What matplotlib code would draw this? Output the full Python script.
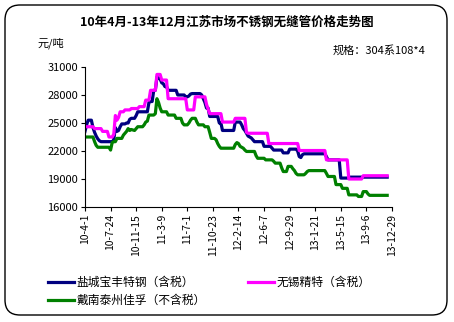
import matplotlib
matplotlib.use("Agg")
import matplotlib.pyplot as plt
from matplotlib.patches import FancyBboxPatch
import numpy as np

plt.rcParams['font.family'] = ['Noto Sans CJK SC', 'DejaVu Sans']

# weekly prices, yuan/ton
yancheng = [
    24100, 24800, 25300, 25300, 25300, 24500, 24000, 23600, 23300, 23100,
    23000, 23000, 23000, 23000, 23000, 23000, 23000, 23000, 23200, 24500,
    24100, 24200, 24600, 24900, 24900, 24900, 25000, 25000, 25400, 25500,
    25500, 25500, 25800, 26200, 26200, 26200, 26200, 26200, 26200, 26200,
    27200, 27300, 27300, 28500, 28500, 29900, 29800, 29700, 29300, 29200,
    28900, 28900, 28500, 28500, 28500, 28500, 28500, 28500, 28000, 28000,
    28000, 28000, 28000, 27800, 27800, 27900, 28100, 28150, 28150, 28150,
    28150, 28150, 28150, 28000, 27600, 27200, 26600, 26600, 25700, 25700,
    25700, 25700, 25700, 25700, 25000, 25000, 24200, 24200, 24200, 24200,
    24200, 24200, 24200, 24200, 25100, 25100, 25100, 25100, 24800, 24400,
    24200, 23900, 23600, 23500, 23400, 23200, 23000, 23000, 23000, 23000,
    23000, 23000, 22500, 22500, 22500, 22500, 22500, 22300, 22100, 22100,
    22100, 22100, 22100, 22100, 21800, 21800, 21800, 21800, 22200, 22200,
    22200, 22200, 22200, 22000, 21400, 21300, 21600, 21700, 21700, 21700,
    21700, 21700, 21700, 21700, 21700, 21700, 21700, 21700, 21700, 21700,
    21700, 21400, 21050, 21050, 21050, 21050, 21050, 21050, 21050, 21050,
    19100, 19100, 19100, 19100, 19100, 19100, 19200, 19200, 19200, 19200,
    19200, 19200, 19200, 19200, 19200, 19200, 19200, 19200, 19200, 19200,
    19200, 19200, 19200, 19200, 19200, 19200, 19200, 19200, 19200, 19200,
]
wuxi = [
    24600, 24600, 24600, 24600, 24600, 24600, 24400, 24400, 24400, 24400,
    24400, 24100, 24100, 24100, 24100, 23500, 23500, 23500, 23800, 25800,
    25300, 25600, 26200, 26200, 26200, 26400, 26400, 26400, 26400, 26550,
    26550, 26550, 26550, 26550, 26750, 26750, 26750, 26750, 27450, 27450,
    27450, 28500, 28500, 28500, 28500, 30200, 30200, 30200, 29600, 29600,
    29600, 29600, 27600, 27600, 27600, 27600, 27600, 27600, 27600, 27600,
    27600, 27600, 27600, 27600, 26400, 26400, 26400, 26400, 26400, 27800,
    27800, 27800, 27800, 27800, 27800, 27800, 27000, 26500, 26000, 26000,
    26000, 26000, 26000, 26000, 26000, 26000, 25100, 25100, 25100, 25100,
    25100, 25100, 25100, 25100, 25500, 25500, 25500, 25500, 25500, 25500,
    25500, 24000, 23900, 23900, 23900, 23900, 23900, 23900, 23900, 23900,
    23900, 23900, 23900, 23900, 23900, 22800, 22800, 22800, 22800, 22800,
    22800, 22800, 22800, 22800, 22800, 22800, 22800, 22800, 22800, 22800,
    22800, 22800, 22800, 22800, 22050, 22050, 22050, 22050, 22050, 22050,
    22050, 22050, 22050, 22050, 22050, 22050, 22050, 22050, 22050, 22050,
    22050, 21050, 21050, 21050, 21050, 21050, 21050, 21050, 21050, 21050,
    21050, 21050, 21050, 21050, 21050, 19000, 19000, 19000, 19000, 19000,
    19000, 19000, 19000, 19000, 19350, 19350, 19350, 19350, 19350, 19350,
    19350, 19350, 19350, 19350, 19350, 19350, 19350, 19350, 19350, 19350,
]
dainan = [
    23500, 23500, 23500, 23500, 23500, 23500, 23000, 22600, 22400, 22400,
    22400, 22400, 22400, 22400, 22400, 22400, 22100, 22900, 23000, 23000,
    23350, 23350, 23350, 23350, 23700, 23900, 24100, 24400, 24200, 24300,
    24250, 24200, 24400, 24600, 24600, 24600, 24600, 24800, 25100, 25200,
    25850, 25850, 25850, 25850, 26000, 27600, 27200, 26600, 26200, 26200,
    26200, 26200, 25850, 25850, 25850, 25850, 25850, 25500, 25500, 25500,
    25500, 25000, 24800, 24800, 24800, 25000, 25300, 25500, 25500, 25500,
    25100, 24800, 24800, 24800, 24800, 24600, 24600, 24600, 24000, 23350,
    23350, 23350, 23200, 22800, 22500, 22300, 22300, 22300, 22300, 22300,
    22300, 22300, 22300, 22300, 22700, 22900, 22800, 22500, 22400, 22300,
    22100, 21950, 21950, 21950, 21950, 21950, 21950, 21500, 21220, 21220,
    21220, 21220, 21220, 21050, 21050, 21050, 21050, 21050, 20900, 20700,
    20700, 20700, 20700, 20200, 19800, 19800, 19800, 20350, 20350, 20350,
    20100, 19900, 19600, 19450, 19450, 19450, 19450, 19450, 19600, 19800,
    19900, 19900, 19900, 19900, 19900, 19900, 19900, 19900, 19900, 19900,
    19900, 19600, 19270, 19270, 19270, 19270, 19270, 18400, 18400, 18400,
    18400, 18000, 18000, 18000, 18000, 17300, 17300, 17300, 17300, 17300,
    17300, 17130, 17130, 17130, 17650, 17650, 17650, 17400, 17250, 17250,
    17250, 17250, 17250, 17250, 17250, 17250, 17250, 17250, 17250, 17250,
]
tick_labels = ['10-4-1', '10-7-24', '10-11-15', '11-3-9', '11-7-1', '11-10-23',
               '12-2-14', '12-6-7', '12-9-29', '13-1-21', '13-5-15', '13-9-6',
               '13-12-29']
y_ticks = [16000, 19000, 22000, 25000, 28000, 31000]

fig = plt.figure(figsize=(4.54, 3.22), dpi=100)
ax = fig.add_axes([0.1872, 0.3571, 0.6762, 0.4349])

weeks = np.arange(len(yancheng))
l1, = ax.plot(weeks, yancheng, color='#000080', lw=2.3)
l2, = ax.plot(weeks, wuxi, color='#FF00FF', lw=2.3)
l3, = ax.plot(weeks, dainan, color='#008000', lw=2.3)

ax.set_xlim(0, 16 * (len(tick_labels) - 1))
ax.set_ylim(16000, 31000)
ax.set_yticks(y_ticks)
ax.set_yticklabels([str(v) for v in y_ticks], fontsize=8)
ax.set_xticks(np.arange(len(tick_labels)) * 16)
ax.set_xticklabels(tick_labels, rotation=90, fontsize=7.5)
ax.tick_params(direction='out', length=3, width=0.8, pad=2)
for s in ['top', 'right']:
    ax.spines[s].set_visible(False)

fig.text(0.5, 0.93, '10年4月-13年12月江苏市场不锈钢无缝管价格走势图',
         ha='center', va='center', fontsize=9, fontweight='bold')
fig.text(0.082, 0.866, '元/吨', ha='left', va='center', fontsize=8)
fig.text(0.937, 0.845, '规格：304系108*4', ha='right', va='center', fontsize=8)

fig.legend([l1, l3, l2], ['盐城宝丰特钢（含税）', '戴南泰州佳孚（不含税）', '无锡精特（含税）'],
           ncol=2, loc='upper left', bbox_to_anchor=(0.095, 0.158), frameon=False,
           fontsize=8.5, handlelength=2.2, columnspacing=3.6, labelspacing=0.45,
           borderaxespad=0, handletextpad=0.2)

frame = FancyBboxPatch((0.05, 0.07), 4.42, 3.10, boxstyle='round,pad=0,rounding_size=0.15',
                       transform=fig.dpi_scale_trans, fill=False, ec='black', lw=1.0)
fig.patches.append(frame)

plt.savefig('out.png', dpi=100)
